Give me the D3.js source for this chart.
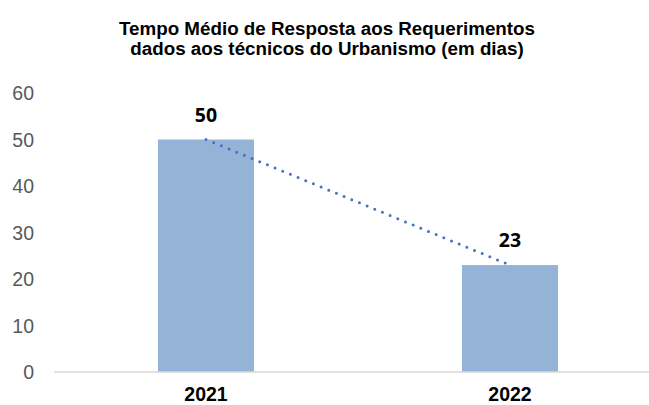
<!DOCTYPE html>
<html>
<head>
<meta charset="utf-8">
<script src="https://cdn.jsdelivr.net/npm/d3@7"></script>
<style>
  body { margin: 0; background: #fff; }
  svg { display: block; }
</style>
</head>
<body>
<svg id="chart" width="649" height="405"></svg>
<script>
const years = ["2021", "2022"];
const values = [50, 23];
const yTicks = [0, 10, 20, 30, 40, 50, 60];
const titleLines = [
    "Tempo Médio de Resposta aos Requerimentos",
    "dados aos técnicos do Urbanismo (em dias)"
];

const W = 649, H = 405;
const plotLeft = 54, plotRight = 662, plotTop = 93, plotBottom = 372;

const svg = d3.select("#chart");

const x = d3.scaleBand()
    .domain(years)
    .range([plotLeft, plotRight])
    .paddingInner(0.684)
    .paddingOuter(0.342);

const y = d3.scaleLinear()
    .domain([0, 60])
    .range([plotBottom, plotTop]);

// title
svg.append("text")
    .attr("x", 327)
    .attr("y", 35)
    .attr("text-anchor", "middle")
    .style("font-family", "Liberation Sans, Arial, sans-serif")
    .style("font-weight", "bold")
    .style("font-size", "18.8px")
    .selectAll("tspan")
    .data(titleLines)
    .join("tspan")
    .attr("x", 327)
    .attr("dy", (d, i) => i === 0 ? 0 : 19.5)
    .text(d => d);

// y axis labels (no line)
const yAxis = d3.axisLeft(y).tickValues(yTicks).tickSize(0).tickPadding(0);
const gy = svg.append("g")
    .attr("transform", `translate(34,0)`)
    .call(yAxis);
gy.select(".domain").remove();
gy.selectAll("text")
    .attr("dy", "0.35em")
    .style("font-family", "Liberation Sans, Arial, sans-serif")
    .style("font-size", "19.5px")
    .attr("fill", "#595959");

// bars
svg.selectAll(".bar")
    .data(values)
    .join("rect")
    .attr("class", "bar")
    .attr("x", (d, i) => x(years[i]))
    .attr("y", d => y(d))
    .attr("width", x.bandwidth())
    .attr("height", d => y(0) - y(d))
    .attr("fill", "#95B3D7");

// x axis
svg.append("line")
    .attr("x1", plotLeft)
    .attr("x2", W)
    .attr("y1", y(0))
    .attr("y2", y(0))
    .attr("stroke", "#D9D9D9")
    .attr("stroke-width", 1.5);

svg.selectAll(".xlab")
    .data(years)
    .join("text")
    .attr("class", "xlab")
    .attr("x", d => x(d) + x.bandwidth() / 2)
    .attr("y", 401)
    .attr("text-anchor", "middle")
    .style("font-family", "Liberation Sans, Arial, sans-serif")
    .style("font-weight", "bold")
    .style("font-size", "19.5px")
    .attr("fill", "#000")
    .text(d => d);

// linear trendline (dotted)
const line = d3.line()
    .x((d, i) => x(years[i]) + x.bandwidth() / 2)
    .y(d => y(d));

svg.append("path")
    .datum(values)
    .attr("d", line)
    .attr("fill", "none")
    .attr("stroke", "#4472C4")
    .attr("stroke-width", 3)
    .attr("stroke-linecap", "round")
    .attr("stroke-dasharray", "0 8.3");

// data labels
svg.selectAll(".vlab")
    .data(values)
    .join("text")
    .attr("class", "vlab")
    .attr("x", (d, i) => x(years[i]) + x.bandwidth() / 2)
    .attr("y", d => y(d) - 18)
    .attr("text-anchor", "middle")
    .style("font-family", "Open Sans, Liberation Sans, sans-serif")
    .style("font-weight", "bold")
    .style("font-size", "19.5px")
    .attr("fill", "#000")
    .text(d => d);
</script>
</body>
</html>
